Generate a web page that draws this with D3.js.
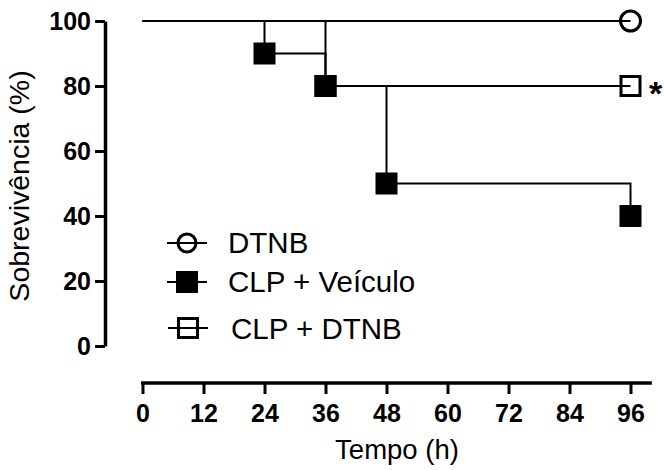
<!DOCTYPE html>
<html>
<head>
<meta charset="utf-8">
<script src="https://cdn.jsdelivr.net/npm/d3@7"></script>
<style>
  html, body { margin: 0; padding: 0; background: #fff; }
  svg { display: block; }
  text { font-family: "Liberation Sans", Arial, sans-serif; fill: #000; }
</style>
</head>
<body>
<svg id="chart" width="664" height="470"></svg>
<script>
// ---- data ----
const seriesNames = ["DTNB", "CLP + Veículo", "CLP + DTNB"];
const dtnbTimes = [0, 96];
const dtnbSurv = [100, 100];
const veiculoTimes = [0, 24, 36, 48, 96];
const veiculoSurv = [100, 90, 80, 50, 40];
const clpDtnbTimes = [0, 36, 96];
const clpDtnbSurv = [100, 80, 80];
const xTicks = [0, 12, 24, 36, 48, 60, 72, 84, 96];
const yTicks = [0, 20, 40, 60, 80, 100];
const xLabel = "Tempo (h)";
const yLabel = "Sobrevivência (%)";
const significance = "*";

// ---- layout ----
const svg = d3.select("#chart");
const x = d3.scaleLinear().domain([0, 96]).range([142.5, 630.5]);
const y = d3.scaleLinear().domain([0, 100]).range([346, 21]);
const xAxisY = 383;
const yAxisX = 105;

// Y axis
const yAxis = d3.axisLeft(y).tickValues(yTicks).tickSize(10).tickSizeOuter(0).tickPadding(4);
const gy = svg.append("g").attr("transform", `translate(${yAxisX},0)`).call(yAxis);
gy.select(".domain").attr("stroke", "#000").attr("stroke-width", 3.5);
gy.selectAll(".tick line").attr("stroke", "#000").attr("stroke-width", 3);
gy.selectAll(".tick text").attr("font-size", 25).attr("font-weight", "bold")
  .style("font-family", '"Liberation Sans", Arial, sans-serif');

// X axis
const xAxis = d3.axisBottom(x).tickValues(xTicks).tickSize(11).tickSizeOuter(0).tickPadding(10);
const gx = svg.append("g").attr("transform", `translate(0,${xAxisY})`).call(xAxis);
gx.select(".domain").remove();
gx.append("line").attr("x1", x(0) - 1.5).attr("x2", x(100.2)).attr("y1", 0).attr("y2", 0)
  .attr("stroke", "#000").attr("stroke-width", 3.5);
gx.selectAll(".tick line").attr("stroke", "#000").attr("stroke-width", 3);
gx.selectAll(".tick text").attr("font-size", 25).attr("font-weight", "bold")
  .style("font-family", '"Liberation Sans", Arial, sans-serif');

// axis titles
svg.append("text").attr("x", 397).attr("y", 459).attr("text-anchor", "middle")
  .attr("font-size", 27.5).text(xLabel);
svg.append("text").attr("transform", "translate(29,186) rotate(-90)")
  .attr("text-anchor", "middle").attr("font-size", 28.5).text(yLabel);

// ---- survival step lines ----
const series = [
  { name: seriesNames[0], t: dtnbTimes, s: dtnbSurv, marker: "circle" },
  { name: seriesNames[1], t: veiculoTimes, s: veiculoSurv, marker: "filled" },
  { name: seriesNames[2], t: clpDtnbTimes, s: clpDtnbSurv, marker: "open" }
];
const line = d3.line().x(d => x(d[0])).y(d => y(d[1])).curve(d3.curveStepAfter);
series.forEach(sr => {
  const pts = sr.t.map((t, i) => [t, sr.s[i]]);
  svg.append("path").datum(pts).attr("d", line)
    .attr("fill", "none").attr("stroke", "#000").attr("stroke-width", 2);
});

function drawMarker(g, type, cx, cy, small) {
  if (type === "circle") {
    g.append("circle").attr("cx", cx).attr("cy", cy).attr("r", small ? 9 : 10)
      .attr("fill", "none").attr("stroke", "#000").attr("stroke-width", 3);
  } else if (type === "filled") {
    g.append("rect").attr("x", cx - 11).attr("y", cy - 11).attr("width", 22).attr("height", 22)
      .attr("fill", "#000");
  } else {
    g.append("rect").attr("x", cx - 9.5).attr("y", cy - 9.5).attr("width", 19).attr("height", 19)
      .attr("fill", "none").attr("stroke", "#000").attr("stroke-width", 3);
  }
}

// markers at each event point (after time 0)
const mg = svg.append("g");
[series[1], series[2], series[0]].forEach(sr => {
  sr.t.forEach((t, i) => {
    if (i === 0) return;
    drawMarker(mg, sr.marker, x(t), y(sr.s[i]), false);
  });
});

// significance mark
svg.append("text").attr("x", x(96) + 18.5).attr("y", y(80) + 19)
  .attr("font-size", 34).attr("font-weight", "bold").text(significance);

// ---- legend ----
const legendRows = [
  { sr: series[0], lx: 187, ly: 243, tx: 228, ty: 252.5 },
  { sr: series[1], lx: 187, ly: 282, tx: 228, ty: 292 },
  { sr: series[2], lx: 188, ly: 328, tx: 231, ty: 338.5 }
];
const lg = svg.append("g");
legendRows.forEach(r => {
  lg.append("line").attr("x1", r.lx - 20).attr("x2", r.lx + 20).attr("y1", r.ly).attr("y2", r.ly)
    .attr("stroke", "#000").attr("stroke-width", 2);
  drawMarker(lg, r.sr.marker, r.lx, r.ly, true);
  lg.append("text").attr("x", r.tx).attr("y", r.ty).attr("font-size", 29.5).text(r.sr.name);
});
</script>
</body>
</html>
